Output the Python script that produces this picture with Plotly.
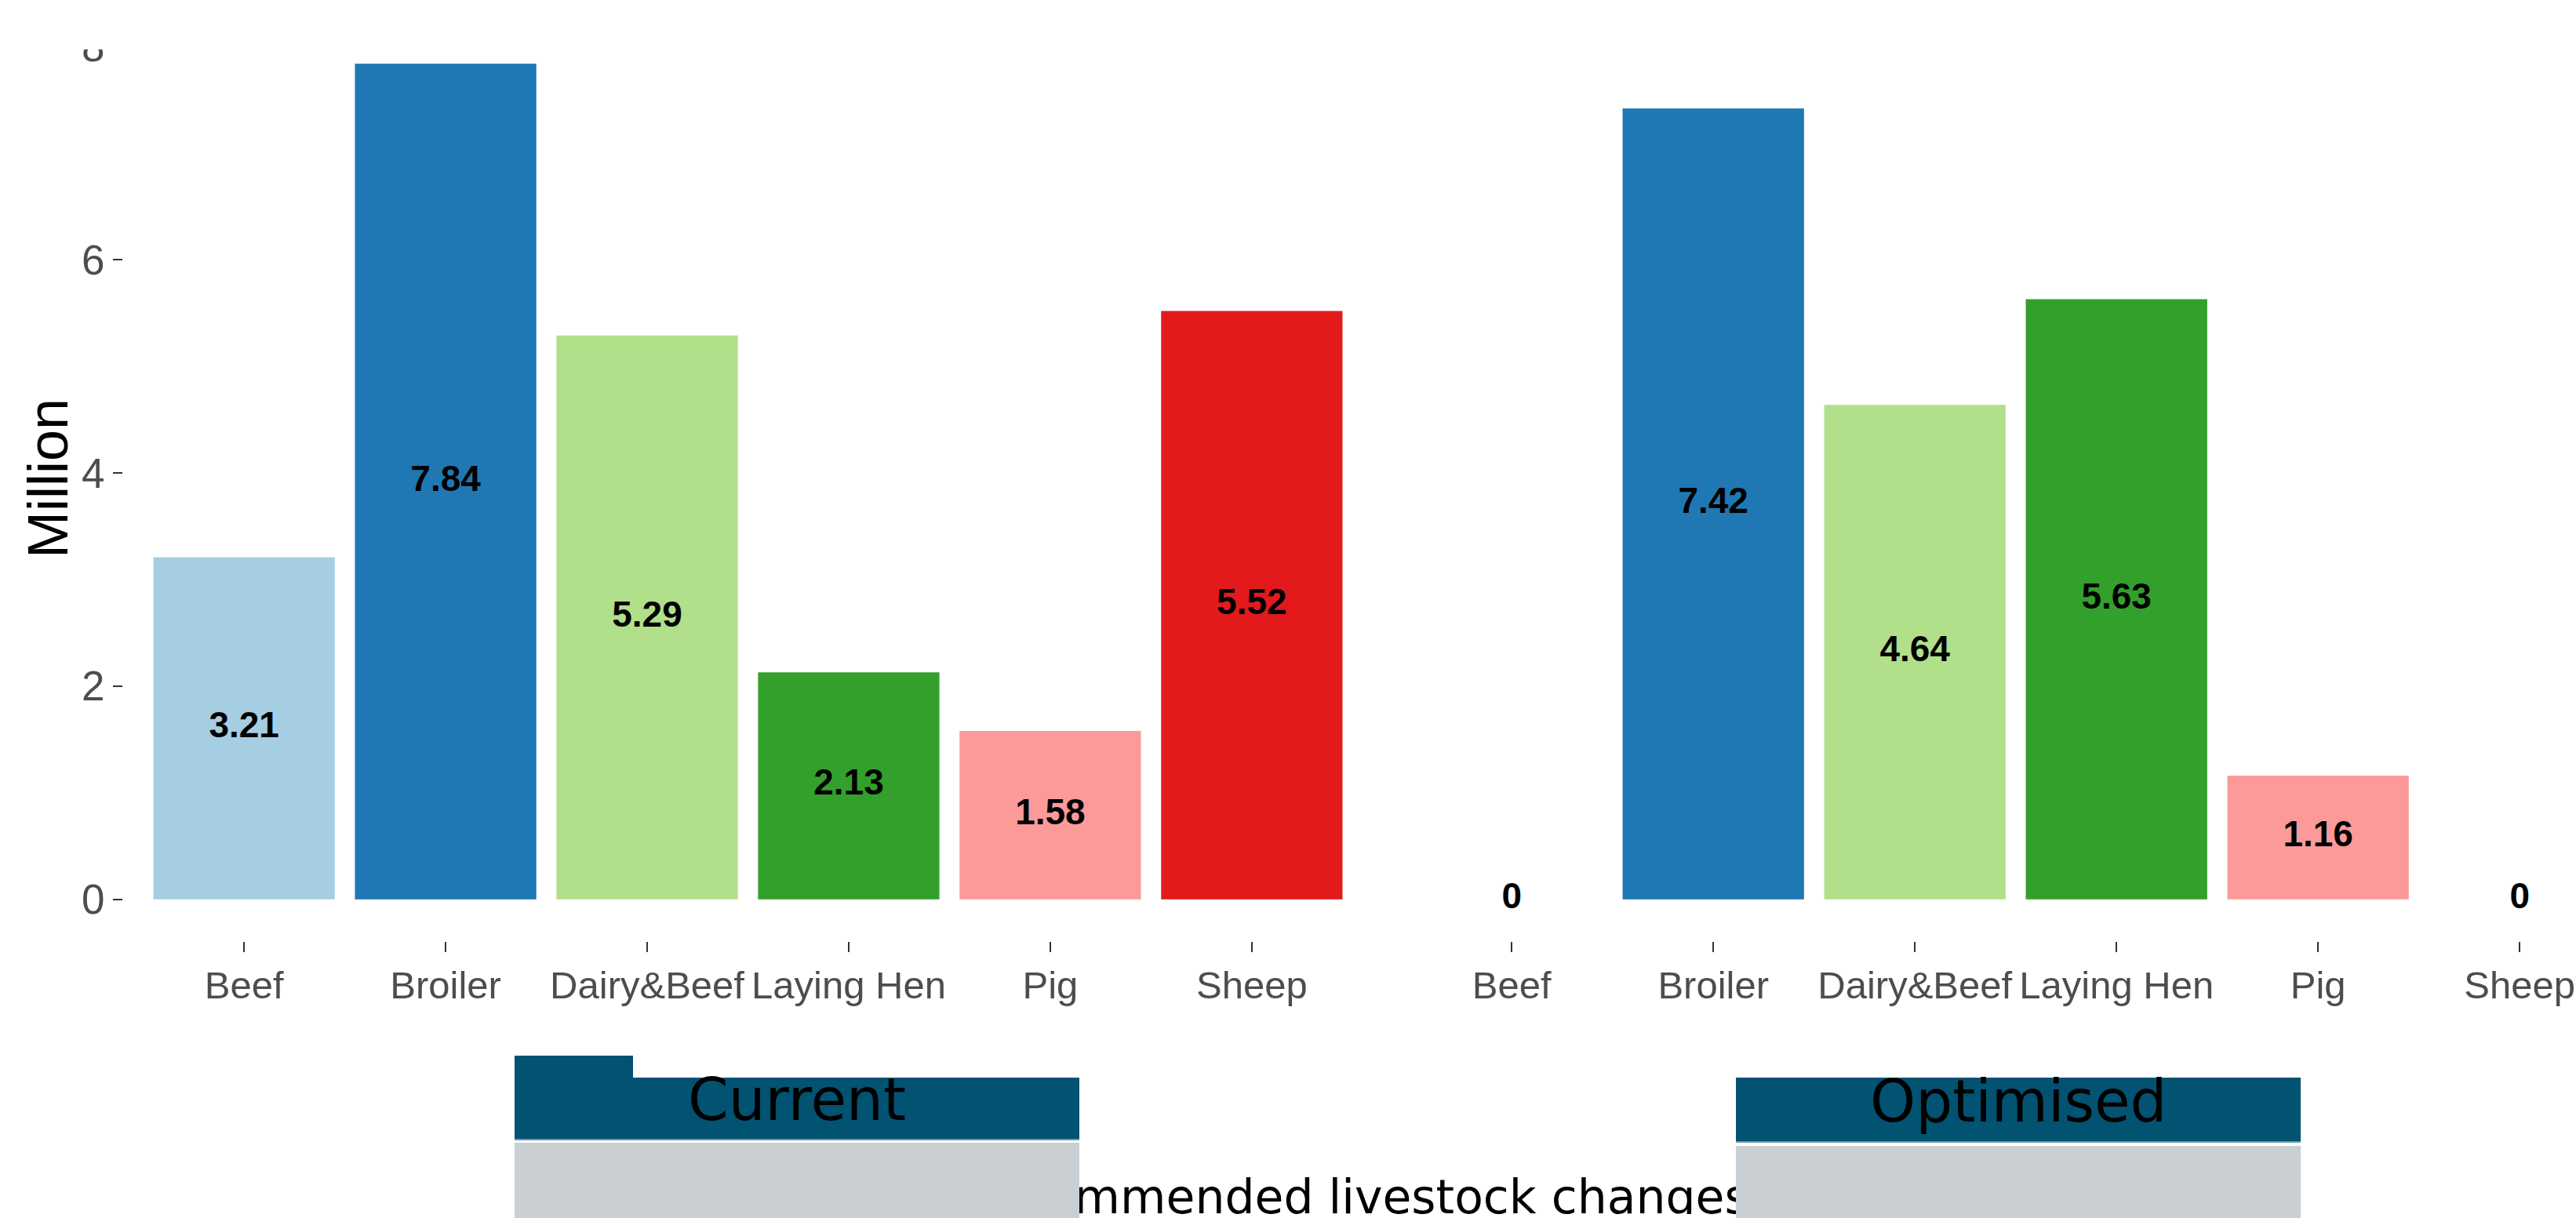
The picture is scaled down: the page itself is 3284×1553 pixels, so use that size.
import plotly.graph_objects as go

# Livestock numbers (million head) per category and scenario
categories = ["Beef", "Broiler", "Dairy&Beef", "Laying Hen", "Pig", "Sheep"]
current = [3.21, 7.84, 5.29, 2.13, 1.58, 5.52]
optimised = [0, 7.42, 4.64, 5.63, 1.16, 0]
bar_colors = ["#A6CEE3", "#1F78B4", "#B2DF8A", "#33A02C", "#FB9A99", "#E31A1C"]
y_ticks = [0, 2, 4, 6, 8]
panel_titles = ["Current", "Optimised"]
caption = "Recommended livestock changes"

W, H = 3284, 1553


def px(x):
    return x / W


def py(y):
    return 1 - y / H


def fmt(v):
    return f"{v:g}"


TICK_FONT = dict(family="Liberation Sans, Arial, sans-serif", size=49, color="#4D4D4D")
LABEL_FONT = dict(family="Liberation Sans, Arial, sans-serif", size=46, color="#000000", weight="bold")

fig = go.Figure()

for values, xa, ya in [(current, "x", "y"), (optimised, "x2", "y2")]:
    fig.add_trace(go.Bar(
        x=categories, y=values, width=0.9,
        marker=dict(color=bar_colors, line=dict(width=0)),
        xaxis=xa, yaxis=ya, showlegend=False, hoverinfo="skip",
    ))
    fig.add_trace(go.Scatter(
        x=categories, y=[v / 2 for v in values],
        text=[fmt(v) for v in values], mode="text",
        textposition="middle center", textfont=LABEL_FONT,
        xaxis=xa, yaxis=ya, showlegend=False, hoverinfo="skip", cliponaxis=False,
    ))

# caption text sitting under the strip boxes
fig.add_trace(go.Scatter(
    x=[1224], y=[1532], text=[caption], mode="text", textposition="middle right",
    textfont=dict(family="DejaVu Sans", size=60, color="#000000"),
    xaxis="x3", yaxis="y3", showlegend=False, hoverinfo="skip", cliponaxis=False,
))

y_dom = [py(1200), py(28)]
y_rng = [-0.392, 8.232]
common_x = dict(
    type="category", categoryorder="array", categoryarray=categories,
    showgrid=False, zeroline=False, showline=False,
    ticks="outside", ticklen=13, tickwidth=2, tickcolor="#333333",
    tickfont=TICK_FONT, automargin=False,
)

fig.update_layout(
    width=W, height=H, autosize=False,
    margin=dict(l=0, r=0, t=0, b=0),
    paper_bgcolor="#FFFFFF", plot_bgcolor="rgba(0,0,0,0)",
    xaxis=dict(domain=[px(157), px(1750)], range=[-0.6, 5.6], anchor="y", **common_x),
    xaxis2=dict(domain=[px(1773), 1.0], range=[-0.6, -0.6 + (W - 1773) / 257.0], anchor="y2", **common_x),
    yaxis=dict(
        domain=y_dom, range=y_rng, anchor="x",
        tickvals=y_ticks, ticktext=[str(t) for t in y_ticks],
        showgrid=False, zeroline=False, showline=False,
        ticks="outside", ticklen=12, tickwidth=2, tickcolor="#333333",
        tickfont=dict(family="Liberation Sans, Arial, sans-serif", size=53, color="#4D4D4D"),
        automargin=False,
    ),
    yaxis2=dict(
        domain=y_dom, range=y_rng, anchor="x2", matches="y",
        showgrid=False, zeroline=False, showline=False,
        showticklabels=False, ticks="", automargin=False,
    ),
    xaxis3=dict(domain=[0, 1], range=[0, W], visible=False, anchor="y3"),
    yaxis3=dict(domain=[0, 1], range=[H, 0], visible=False, anchor="x3"),
    bargap=0.1,
)

fig.add_annotation(
    text="Million", textangle=-90, xref="paper", yref="paper",
    x=px(61), y=py(610), xanchor="center", yanchor="middle", showarrow=False,
    font=dict(family="Liberation Sans, Arial, sans-serif", size=72, color="#000000"),
)

TEAL = "#025272"
GREY = "#CACFD3"
EDGE = "#6F97AC"
shapes = []


def rect(x0, y0, x1, y1, color):
    shapes.append(dict(
        type="rect", xref="paper", yref="paper", layer="above",
        x0=px(x0), x1=px(x1), y0=py(y1), y1=py(y0),
        fillcolor=color, line=dict(width=0),
    ))


# white band across the top edge
rect(0, 0, W, 63, "#FFFFFF")
# clip strip under the caption
rect(1376, 1548, 2213, H + 2, "#FFFFFF")
# left strip: teal header with tab, thin edge line, grey body
rect(656, 1346, 807, 1375, TEAL)
rect(656, 1374, 1376, 1452, TEAL)
rect(656, 1452, 1376, 1454, EDGE)
rect(656, 1457, 1376, H + 2, GREY)
# right strip
rect(2213, 1374, 2933, 1455, TEAL)
rect(2213, 1455, 2933, 1457, EDGE)
rect(2213, 1461, 2933, H + 2, GREY)
fig.update_layout(shapes=shapes)

for title, cx, cy in [(panel_titles[0], 1016, 1402), (panel_titles[1], 2573, 1404)]:
    fig.add_annotation(
        text=title, xref="paper", yref="paper", x=px(cx), y=py(cy),
        xanchor="center", yanchor="middle", showarrow=False,
        font=dict(family="DejaVu Sans", size=74, color="#000000"),
    )

fig.write_html("out.html")
